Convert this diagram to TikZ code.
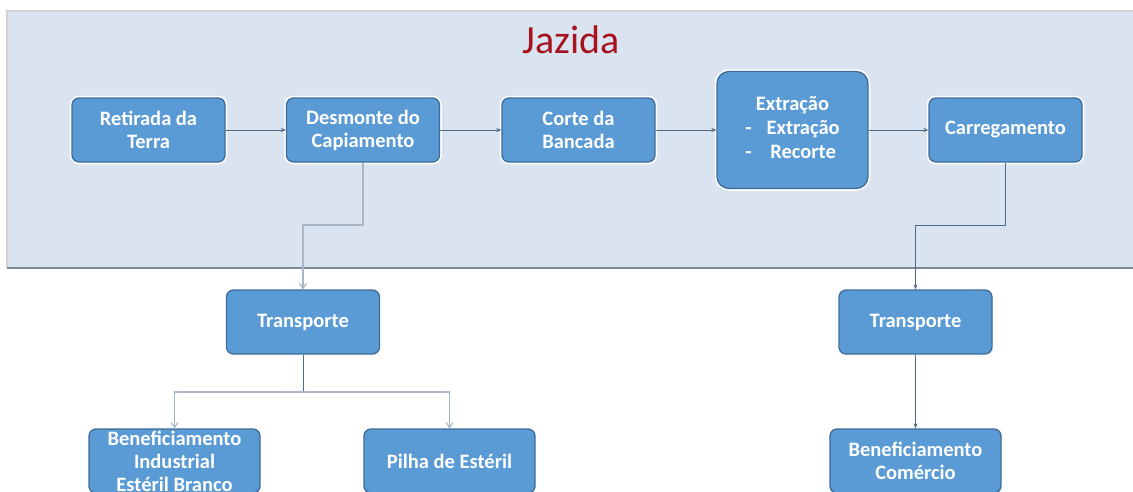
\documentclass[tikz,border=0pt]{standalone}
\usepackage{fontspec}
\setmainfont{Carlito}
\usetikzlibrary{arrows.meta}

\definecolor{panelfill}{HTML}{DAE4F1}
\definecolor{panelline}{HTML}{7D8994}
\definecolor{boxfill}{HTML}{5B9BD5}
\definecolor{boxline}{HTML}{3E6C98}
\definecolor{linkcol}{HTML}{4D6B88}
\definecolor{paleline}{HTML}{A9B6C5}
\definecolor{titlered}{HTML}{A8121E}

\tikzset{
  stepbox/.style={draw=boxline, line width=1.3pt, fill=boxfill, rounded corners=7pt,
    preaction={draw=white, line width=4.5pt},
    text=white, font=\fontsize{20.5}{23}\selectfont\bfseries, align=center,
    minimum width=153pt, minimum height=64pt, inner sep=0pt},
  link/.style={linkcol, line width=1pt, -{Stealth[length=5pt,width=4pt]}},
  palelink/.style={paleline, line width=1.1pt, -{Straight Barb[length=5pt,width=7pt]}},
}

\begin{document}
\begin{tikzpicture}[x=1pt, y=-1pt]
    \useasboundingbox (0,0) rectangle (1133,491);
    \clip (0,0) rectangle (1133,491);

    % Jazida panel
    \fill[panelfill] (7,11) rectangle (1140,268);
    \draw[gray!35, line width=1.2pt] (7,268) -- (7,11) -- (1140,11);
    \draw[panelline, line width=1.6pt] (7,268) -- (1140,268);
    \node[text=titlered, font=\fontsize{40}{44}\selectfont] (jazida) at (571,40) {Jazida};

    % Steps in the panel
    \node[stepbox] (ret) at (148.5,130) {Retirada da\\Terra};
    \node[stepbox] (des) at (363,130) {Desmonte do\\Capiamento};
    \node[stepbox] (cor) at (578.5,130) {Corte da\\Bancada};
    \node[stepbox, minimum width=151pt, minimum height=117pt, rounded corners=12pt] (ext) at (792.5,130)
      {\renewcommand\arraystretch{1.05}%
       \begin{tabular}{@{}l@{\hspace{15pt}}c@{}}
       \multicolumn{2}{c}{Extração}\\
       - & Extração\\
       - & Recorte
       \end{tabular}};
    \node[stepbox] (car) at (1005.5,130) {Carregamento};

    % Steps below
    \node[stepbox] (tr1) at (303,322) {Transporte};
    \node[stepbox, minimum width=171pt, inner ysep=-5pt] (ben1) at (174.5,461) {Beneficiamento\\Industrial\\Estéril Branco};
    \node[stepbox, minimum width=171pt] (pil) at (449.5,461) {Pilha de Estéril};
    \node[stepbox] (tr2) at (915.5,322) {Transporte};
    \node[stepbox, minimum width=171pt] (ben2) at (915.5,461) {Beneficiamento\\Comércio};

    % Draw the flow in the panel
    \draw[link] (ret) -- (des);
    \draw[link] (des) -- (cor);
    \draw[link] (cor) -- (ext);
    \draw[link] (ext) -- (car);

    % Draw the branches
    \coordinate (d1) at (303,225);
    \coordinate (b1) at (303,392);
    \coordinate (c1) at (915.5,225);

    \draw[palelink] (des.south) |- (d1) -- (tr1.north);
    \draw[linkcol, line width=1pt] (tr1.south) -- (b1);
    \draw[palelink] (b1) -| (ben1.north);
    \draw[palelink] (b1) -| (pil.north);

    \draw[link] (car.south) |- (c1) -- (tr2.north);
    \draw[link] (tr2) -- (ben2);
\end{tikzpicture}
\end{document}
